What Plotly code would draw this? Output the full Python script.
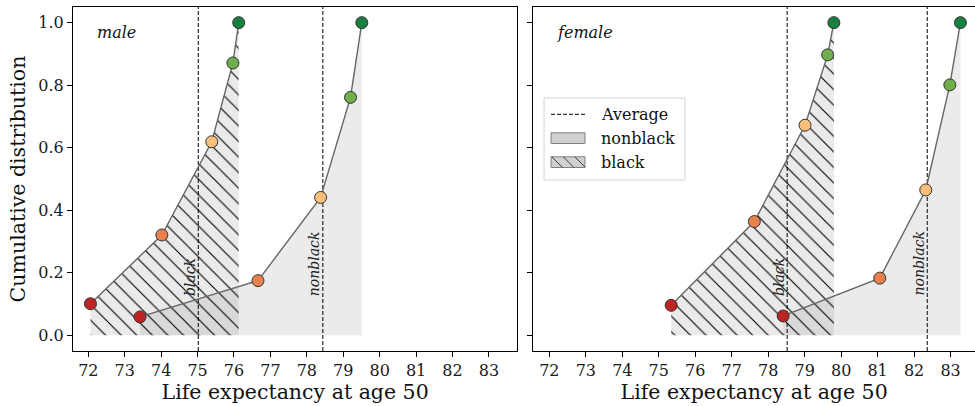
import plotly.graph_objects as go
from plotly.subplots import make_subplots

# Life expectancy at age 50 by income quintile (cumulative share of population)
male_black_le = [72.06, 74.02, 75.39, 75.97, 76.13]
male_black_cdf = [0.101, 0.321, 0.619, 0.871, 1.0]
male_nonblack_le = [73.42, 76.66, 78.38, 79.20, 79.51]
male_nonblack_cdf = [0.059, 0.175, 0.441, 0.761, 1.0]

female_black_le = [75.34, 77.62, 79.01, 79.63, 79.80]
female_black_cdf = [0.096, 0.364, 0.672, 0.897, 1.0]
female_nonblack_le = [78.41, 81.06, 82.32, 82.98, 83.27]
female_nonblack_cdf = [0.062, 0.183, 0.465, 0.801, 1.0]

male_avg = [75.02, 78.44]      # black, nonblack
female_avg = [78.52, 82.36]    # black, nonblack
group_names = ["black", "nonblack"]
panel_names = ["male", "female"]

quintile_colors = ["#bf2424", "#e8814c", "#fcbf7b", "#70ad4b", "#158040"]

x_ticks = list(range(72, 84))
y_ticks = [0.0, 0.2, 0.4, 0.6, 0.8, 1.0]
y_range = [-0.05, 1.05]
x_range_left = [71.58, 83.78]
x_range_right = [71.56, 83.67]

FONT = "DejaVu Serif"
FIG_W, FIG_H = 975, 406
M_L, M_R, M_T, M_B = 73, 0, 7, 55
FILL_GRAY = "rgba(128,128,128,0.16)"


def px_x(p):
    return (p - M_L) / (FIG_W - M_L - M_R)


def px_y(p):
    return (FIG_H - M_B - p) / (FIG_H - M_T - M_B)


fig = make_subplots(rows=1, cols=2, horizontal_spacing=0.0)
fig.update_layout(
    xaxis=dict(domain=[0, px_x(517.3)]),
    xaxis2=dict(domain=[px_x(533.3), 1.0]),
)

panels = [
    (1, male_black_le, male_black_cdf, male_nonblack_le, male_nonblack_cdf, male_avg),
    (2, female_black_le, female_black_cdf, female_nonblack_le, female_nonblack_cdf, female_avg),
]

for col, b_x, b_y, nb_x, nb_y, avg in panels:
    # shaded area under each cumulative curve
    fig.add_trace(go.Scatter(
        x=nb_x, y=nb_y, mode="none", fill="tozeroy", fillcolor=FILL_GRAY,
        showlegend=False, hoverinfo="skip"), row=1, col=col)
    fig.add_trace(go.Scatter(
        x=b_x, y=b_y, mode="none", fill="tozeroy",
        fillpattern=dict(shape="\\", size=11, solidity=0.1, fgcolor="#000000",
                         bgcolor=FILL_GRAY, fillmode="replace"),
        showlegend=False, hoverinfo="skip"), row=1, col=col)
    # group averages
    for a in avg:
        fig.add_trace(go.Scatter(
            x=[a, a], y=y_range, mode="lines",
            line=dict(color="black", width=1, dash="4px,2px"),
            showlegend=False, hoverinfo="skip"), row=1, col=col)
    # cumulative curves with quintile markers
    for xs, ys in [(b_x, b_y), (nb_x, nb_y)]:
        fig.add_trace(go.Scatter(
            x=xs, y=ys, mode="lines+markers",
            line=dict(color="#666666", width=1.4),
            marker=dict(size=12, color=quintile_colors,
                        line=dict(color="#333333", width=1)),
            showlegend=False), row=1, col=col)
    # group labels along the average lines
    xref = "x" if col == 1 else "x2"
    yref = "y" if col == 1 else "y2"
    for a, name in zip(avg, group_names):
        fig.add_annotation(
            x=a, y=0.12, xref=xref, yref=yref, text=f"<i>{name}</i>",
            textangle=-90, xanchor="right", yanchor="bottom", showarrow=False,
            xshift=2, font=dict(family=FONT, size=14, color="#222222"))
    fig.add_annotation(
        x=0.05, y=0.927, xref=f"{xref} domain", yref=f"{yref} domain",
        text=f"<i>{panel_names[col - 1]}</i>", xanchor="left", yanchor="middle",
        showarrow=False, font=dict(family=FONT, size=16, color="#111111"))

axis_common = dict(
    ticks="outside", ticklen=5, tickwidth=1.2, tickcolor="black",
    showline=True, linecolor="black", linewidth=1.25,
    showgrid=False, zeroline=False,
    tickfont=dict(family=FONT, size=16, color="#1a1a1a"),
)

for col, xr in [(1, x_range_left), (2, x_range_right)]:
    fig.update_xaxes(
        range=xr, tickvals=x_ticks, ticktext=[str(t) for t in x_ticks],
        mirror=True,
        title=dict(text="Life expectancy at age 50", standoff=5,
                   font=dict(family=FONT, size=20.5, color="#111111")),
        row=1, col=col, **axis_common)

fig.update_yaxes(
    range=y_range, tickvals=y_ticks, ticktext=[f"{v:.1f}" for v in y_ticks],
    mirror=True,
    title=dict(text="Cumulative distribution", standoff=7,
               font=dict(family=FONT, size=20.5, color="#111111")),
    row=1, col=1, **axis_common)
fig.update_yaxes(
    range=y_range, tickvals=y_ticks, showticklabels=False, mirror=False,
    row=1, col=2, **axis_common)

# legend drawn in the upper left of the female panel
shapes = []
annotations = []
box_l, box_r, box_t, box_b = 544, 685, 98, 180
shapes.append(dict(type="rect", xref="paper", yref="paper",
                   x0=px_x(box_l), x1=px_x(box_r), y0=px_y(box_b), y1=px_y(box_t),
                   fillcolor="white", line=dict(color="#d4d4d4", width=1),
                   layer="above"))
sw_l, sw_r = 551, 585
shapes.append(dict(type="line", xref="paper", yref="paper",
                   x0=px_x(sw_l), x1=px_x(sw_r), y0=px_y(114.3), y1=px_y(114.3),
                   line=dict(color="black", width=1, dash="4px,2px"), layer="above"))
shapes.append(dict(type="rect", xref="paper", yref="paper",
                   x0=px_x(sw_l), x1=px_x(sw_r), y0=px_y(143.5), y1=px_y(132.8),
                   fillcolor="#d0d0d0", line=dict(color="#808080", width=1),
                   layer="above"))
h_top, h_bot = 156.8, 167.5
shapes.append(dict(type="rect", xref="paper", yref="paper",
                   x0=px_x(sw_l), x1=px_x(sw_r), y0=px_y(h_bot), y1=px_y(h_top),
                   fillcolor="#d0d0d0", line=dict(color="#808080", width=1),
                   layer="above"))
hh = h_bot - h_top
path = ""
a = sw_l - hh
while a < sw_r:
    t0 = max(0.0, sw_l - a)
    t1 = min(hh, sw_r - a)
    if t1 > t0:
        path += (f"M{px_x(a + t0)},{px_y(h_top + t0)} "
                 f"L{px_x(a + t1)},{px_y(h_top + t1)} ")
    a += 11.5
shapes.append(dict(type="path", xref="paper", yref="paper", path=path,
                   line=dict(color="#3a3a3a", width=1), layer="above"))
for label, yc in [("Average", 114.3), ("nonblack", 138.2), ("black", 162.2)]:
    annotations.append(dict(x=px_x(599), y=px_y(yc), xref="paper", yref="paper",
                            text=label, xanchor="left", yanchor="middle",
                            showarrow=False,
                            font=dict(family=FONT, size=16, color="#111111")))

fig.update_layout(
    width=FIG_W, height=FIG_H,
    margin=dict(l=M_L, r=M_R, t=M_T, b=M_B),
    paper_bgcolor="white", plot_bgcolor="white",
    showlegend=False,
    shapes=shapes,
    annotations=list(fig.layout.annotations) + annotations,
    font=dict(family=FONT),
)

fig.write_html("out.html")
